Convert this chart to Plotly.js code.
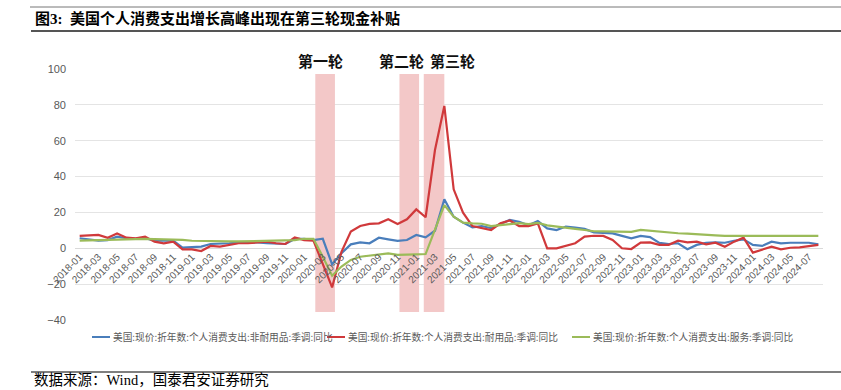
<!DOCTYPE html>
<html><head><meta charset="utf-8">
<script src="https://cdn.plot.ly/plotly-3.0.1.min.js"></script>
<style>html,body{margin:0;padding:0;background:#fff}#chart{width:841px;height:390px}</style>
</head><body><div id="chart"></div>
<script>
const months = [
 '2018-01','2018-02','2018-03','2018-04','2018-05','2018-06','2018-07','2018-08','2018-09','2018-10','2018-11','2018-12',
 '2019-01','2019-02','2019-03','2019-04','2019-05','2019-06','2019-07','2019-08','2019-09','2019-10','2019-11','2019-12',
 '2020-01','2020-02','2020-03','2020-04','2020-05','2020-06','2020-07','2020-08','2020-09','2020-10','2020-11','2020-12',
 '2021-01','2021-02','2021-03','2021-04','2021-05','2021-06','2021-07','2021-08','2021-09','2021-10','2021-11','2021-12',
 '2022-01','2022-02','2022-03','2022-04','2022-05','2022-06','2022-07','2022-08','2022-09','2022-10','2022-11','2022-12',
 '2023-01','2023-02','2023-03','2023-04','2023-05','2023-06','2023-07','2023-08','2023-09','2023-10','2023-11','2023-12',
 '2024-01','2024-02','2024-03','2024-04','2024-05','2024-06','2024-07','2024-08'];

const nondurables = [
 5.6, 5.0, 4.3, 4.6, 6.5, 5.6, 5.2, 5.6, 4.3, 4.3, 4.3, 0.4,
 0.6, 0.9, 2.4, 2.4, 2.8, 3.2, 3.2, 3.3, 2.8, 2.8, 2.4, 5.2,
 5.2, 4.6, 5.3, -9.0, -2.8, 2.2, 3.3, 2.8, 5.9, 5.0, 4.1, 4.6,
 7.4, 6.1, 9.8, 27.3, 17.6, 14.3, 11.7, 12.4, 11.2, 13.5, 15.8, 14.8,
 12.9, 15.2, 11.1, 10.2, 12.1, 11.5, 10.8, 8.9, 8.7, 8.3, 6.9, 5.5,
 6.9, 6.2, 3.0, 2.4, 2.8, -0.5, 1.9, 3.1, 3.3, 3.1, 4.2, 5.0,
 1.9, 1.3, 3.7, 2.8, 3.1, 3.1, 3.1, 2.2];

const durables = [
 6.9, 7.3, 7.5, 5.9, 8.3, 5.9, 5.5, 6.5, 3.7, 2.8, 3.7, -0.6,
 -0.6, -1.5, 1.3, 0.9, 1.8, 2.8, 2.8, 3.3, 3.7, 2.8, 2.4, 6.1,
 4.6, 4.3, -8.4, -21.8, -2.0, 9.3, 12.4, 13.6, 13.9, 16.2, 13.6, 16.2,
 21.7, 17.3, 54.8, 79.4, 32.9, 19.9, 12.4, 11.2, 10.2, 13.9, 15.5, 12.4,
 12.4, 13.9, 0.0, 0.0, 1.2, 2.8, 6.5, 7.0, 6.9, 4.6, 0.0, -0.4,
 3.2, 3.3, 1.9, 1.9, 4.2, 3.3, 3.7, 2.2, 3.1, 0.9, 3.7, 5.9,
 -2.4, -0.6, 0.9, -0.6, 0.3, 0.5, 1.3, 1.9];

const services = [
 4.3, 4.5, 4.6, 4.7, 4.8, 5.0, 5.1, 5.2, 5.1, 5.0, 4.9, 4.7,
 4.2, 4.0, 3.9, 3.8, 3.8, 3.8, 3.9, 4.0, 4.1, 4.2, 4.4, 4.6,
 5.3, 5.3, -4.7, -15.3, -10.2, -6.5, -4.7, -4.1, -3.2, -2.8, -3.7, -3.7,
 -3.4, -3.2, 10.2, 24.1, 17.6, 14.3, 13.9, 13.7, 12.4, 12.8, 13.5, 14.0,
 13.5, 14.2, 12.8, 12.0, 11.4, 10.8, 10.2, 9.5, 9.4, 9.3, 9.0, 9.2,
 10.3, 9.8, 9.0, 8.7, 8.4, 8.2, 8.0, 7.5, 7.2, 6.9, 6.9, 7.2,
 7.0, 6.9, 7.0, 7.1, 6.9, 7.0, 6.9, 6.9];

const seriesNames = [
 '美国:现价:折年数:个人消费支出:非耐用品:季调:同比',
 '美国:现价:折年数:个人消费支出:耐用品:季调:同比',
 '美国:现价:折年数:个人消费支出:服务:季调:同比'];
const seriesColors = ['#4A7EBB', '#D0393B', '#9BBB59'];
const roundLabels = ['第一轮', '第二轮', '第三轮'];
const roundSpans = [[25.2, 27.3], [34.2, 36.3], [36.8, 39.0]];
const yTicks = [-40, -20, 0, 20, 40, 60, 80, 100];
const yRange = [-40, 100];
const titleText = '图3:  美国个人消费支出增长高峰出现在第三轮现金补贴';
const sourceText = '数据来源：Wind，国泰君安证券研究';

const W = 841, H = 390, L = 75, R = 18, T = 69, B = 70;
const pw = W - L - R, ph = H - T - B;
const px = v => (v - L) / pw;
const py = v => (H - B - v) / ph;

const allSeries = [nondurables, durables, services];
const traces = allSeries.map((s, i) => ({
  type: 'scatter', mode: 'lines', x: months, y: s, name: seriesNames[i],
  line: {color: seriesColors[i], width: 2.2}, showlegend: false, hoverinfo: 'skip'
}));

const shapes = [];
const annotations = [];
roundSpans.forEach((sp, i) => {
  shapes.push({type: 'rect', xref: 'x', yref: 'y', x0: sp[0], x1: sp[1], y0: -35.6, y1: 97.2,
    fillcolor: '#F3C8C8', line: {width: 0}, layer: 'between'});
});
const labelPx = [320, 401, 452];
roundLabels.forEach((t, i) => {
  annotations.push({xref: 'paper', yref: 'paper', x: px(labelPx[i]), y: py(60), text: '<b>' + t + '</b>',
    showarrow: false, xanchor: 'center', yanchor: 'middle',
    font: {family: 'Noto Sans CJK SC', size: 15, color: '#111'}});
});
// header / footer rules
shapes.push({type: 'line', xref: 'paper', yref: 'paper', x0: px(30), x1: px(841), y0: py(7), y1: py(7), line: {color: '#777', width: 1}});
shapes.push({type: 'line', xref: 'paper', yref: 'paper', x0: px(31), x1: px(841), y0: py(31), y1: py(31), line: {color: '#555', width: 2}});
shapes.push({type: 'line', xref: 'paper', yref: 'paper', x0: px(31), x1: px(841), y0: py(372), y1: py(372), line: {color: '#555', width: 1.5}});
annotations.push({xref: 'paper', yref: 'paper', x: px(33), y: py(19), text: '<b>' + titleText + '</b>', showarrow: false,
  xanchor: 'left', yanchor: 'middle', font: {family: 'Liberation Serif, Noto Sans CJK SC', size: 15, color: '#000'}});
annotations.push({xref: 'paper', yref: 'paper', x: px(32), y: py(380), text: sourceText, showarrow: false,
  xanchor: 'left', yanchor: 'middle', font: {family: 'Liberation Serif, Noto Sans CJK SC', size: 14.5, color: '#000'}});
// legend
const legX = [92, 327, 572];
seriesNames.forEach((n, i) => {
  shapes.push({type: 'line', xref: 'paper', yref: 'paper', x0: px(legX[i]), x1: px(legX[i] + 18), y0: py(337), y1: py(337),
    line: {color: seriesColors[i], width: 2}});
  annotations.push({xref: 'paper', yref: 'paper', x: px(legX[i] + 19), y: py(337), text: n, showarrow: false,
    xanchor: 'left', yanchor: 'middle', font: {family: 'Noto Sans CJK SC', size: 9.7, color: '#595959'}});
});

const layout = {
  width: W, height: H, margin: {l: L, r: R, t: T, b: B, pad: 0},
  paper_bgcolor: '#fff', plot_bgcolor: '#fff',
  xaxis: {type: 'category', range: [-0.5, months.length - 0.5], tickmode: 'array',
    tickvals: months.filter((m, i) => i % 2 === 0), ticktext: months.filter((m, i) => i % 2 === 0),
    tickangle: -45, anchor: 'free', position: (0 - yRange[0]) / (yRange[1] - yRange[0]),
    showgrid: false, showline: false, zeroline: false, ticks: '', automargin: false, fixedrange: true,
    tickfont: {family: 'Liberation Sans, Arial', size: 10, color: '#595959'}},
  yaxis: {range: yRange, tickmode: 'array', tickvals: yTicks, showgrid: true, gridcolor: '#E4E4E4', gridwidth: 1,
    zeroline: true, zerolinecolor: '#D9D9D9', zerolinewidth: 1, showline: false, ticks: '', automargin: false,
    ticklabelstandoff: 8, fixedrange: true,
    tickfont: {family: 'Liberation Sans, Arial', size: 11, color: '#595959'}},
  shapes: shapes, annotations: annotations, showlegend: false
};
Plotly.newPlot('chart', traces, layout, {displayModeBar: false, staticPlot: true});
</script></body></html>
